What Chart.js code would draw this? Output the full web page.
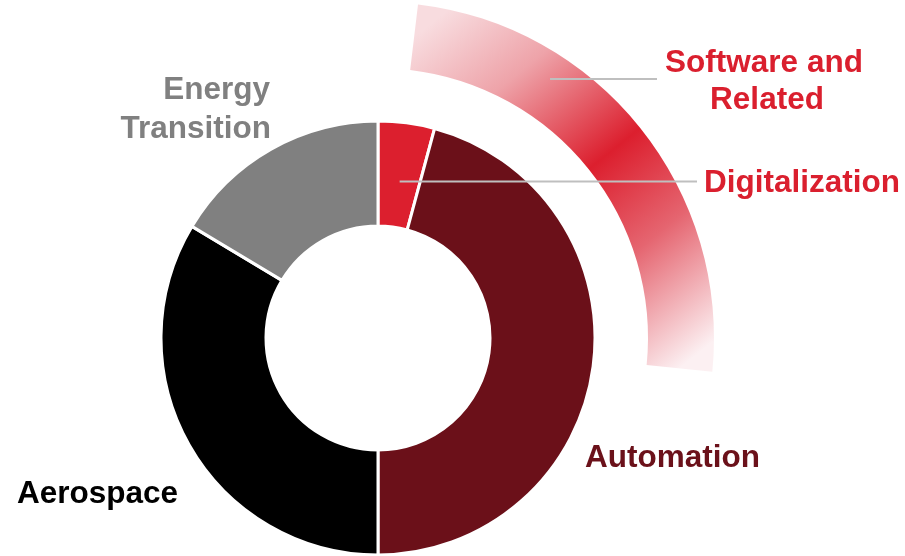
<!DOCTYPE html>
<html>
<head>
<meta charset="utf-8">
<script src="https://cdn.jsdelivr.net/npm/chart.js@4/dist/chart.umd.min.js"></script>
<style>
  html, body { margin: 0; padding: 0; background: #ffffff; overflow: hidden; }
  #wrap { width: 905px; height: 556px; position: relative; }
  canvas { display: block; }
</style>
</head>
<body>
<div id="wrap"><canvas id="mix" width="905" height="556"></canvas></div>
<script>
// Business segments, clockwise from 12 o'clock, share of total (%)
const segments = ['Digitalization', 'Automation', 'Aerospace', 'Energy Transition'];
const shares = [4.2, 45.8, 33.6, 16.4];
const segmentColors = ['#DC1F2E', '#6B1019', '#000000', '#808080'];

// "Software and Related" band on the outer ring, in % of a full turn:
// lead-in before the band, the band itself, remainder of the turn
const softwareLabel = 'Software and Related';
const softwareBand = [1.9, 24.7, 73.4];

// Band fill: pale at both ends, full red in the middle
function bandFill(context) {
  if (context.dataIndex !== 1) return 'rgba(0,0,0,0)';
  const chart = context.chart;
  const area = chart.chartArea;
  if (!area) return '#E8707A';
  const meta = chart.getDatasetMeta(0);
  const arc = meta.data[1];
  const cx = (area.left + area.right) / 2;
  const cy = (area.top + area.bottom) / 2;
  const total = softwareBand.reduce((a, b) => a + b, 0);
  const a0 = softwareBand[0] / total * 2 * Math.PI;
  const a1 = (softwareBand[0] + softwareBand[1]) / total * 2 * Math.PI;
  const rOut = arc && arc.outerRadius ? arc.outerRadius : 336;
  const rIn = arc && arc.innerRadius ? arc.innerRadius : 270;
  const rMid = (rOut + rIn) / 2;
  const x0 = cx + rMid * Math.sin(a0), y0 = cy - rMid * Math.cos(a0);
  const x1 = cx + rMid * Math.sin(a1), y1 = cy - rMid * Math.cos(a1);
  const g = chart.ctx.createLinearGradient(x0, y0, x1, y1);
  g.addColorStop(0.0, '#F8DCDF');
  g.addColorStop(0.22, '#EEA3A9');
  g.addColorStop(0.5, '#DC1F2E');
  g.addColorStop(0.72, '#E56570');
  g.addColorStop(1.0, '#FCF0F2');
  return g;
}

// Text labels and connector lines
const annotate = {
  id: 'annotate',
  afterDraw(chart) {
    const c = chart.ctx;
    const band = chart.getDatasetMeta(0).data[1];
    const digi = chart.getDatasetMeta(2).data[0];
    const font = 'bold 31.5px "Liberation Sans", Arial, sans-serif';

    c.save();
    c.strokeStyle = '#BFBFBF';
    c.lineWidth = 2;

    // connector from the software band to its label
    const ySw = 79;
    const rSw = band.innerRadius + (band.outerRadius - band.innerRadius) * 0.62;
    const xSw = band.x + Math.sqrt(Math.max(rSw * rSw - (band.y - ySw) * (band.y - ySw), 0));
    c.beginPath();
    c.moveTo(xSw, ySw);
    c.lineTo(657, ySw);
    c.stroke();

    // connector from the Digitalization slice to its label
    const p = digi.tooltipPosition();
    const yDg = 181.5;
    c.beginPath();
    c.moveTo(p.x, yDg);
    c.lineTo(697, yDg);
    c.stroke();

    c.font = font;
    c.textBaseline = 'alphabetic';

    c.fillStyle = '#DA1F2E';
    c.textAlign = 'center';
    c.fillText('Software and', 764, 72);
    c.fillText('Related', 767, 109);
    c.textAlign = 'left';
    c.fillText(segments[0], 704, 192);

    c.fillStyle = '#6B111A';
    c.fillText(segments[1], 585, 467);

    c.fillStyle = '#000000';
    c.fillText(segments[2], 17, 503);

    c.fillStyle = '#808080';
    c.textAlign = 'right';
    c.fillText('Energy', 270, 99);
    c.fillText('Transition', 271, 138);
    c.restore();
  }
};

new Chart(document.getElementById('mix'), {
  type: 'doughnut',
  data: {
    labels: segments,
    datasets: [
      {
        label: softwareLabel,
        data: softwareBand,
        backgroundColor: bandFill,
        borderWidth: 0,
        weight: 66,
        clip: false
      },
      {
        label: 'spacer',
        data: [100],
        backgroundColor: 'rgba(0,0,0,0)',
        borderWidth: 0,
        weight: 53,
        clip: false
      },
      {
        label: 'Segment share',
        data: shares,
        backgroundColor: segmentColors,
        borderColor: '#ffffff',
        borderWidth: 3,
        weight: 105,
        clip: false
      }
    ]
  },
  options: {
    responsive: false,
    animation: false,
    events: [],
    radius: 336,
    cutout: '33.333%',
    layout: { padding: { left: 0, right: 149, top: 120, bottom: 0 } },
    plugins: {
      legend: { display: false },
      tooltip: { enabled: false }
    }
  },
  plugins: [annotate]
});
</script>
</body>
</html>
